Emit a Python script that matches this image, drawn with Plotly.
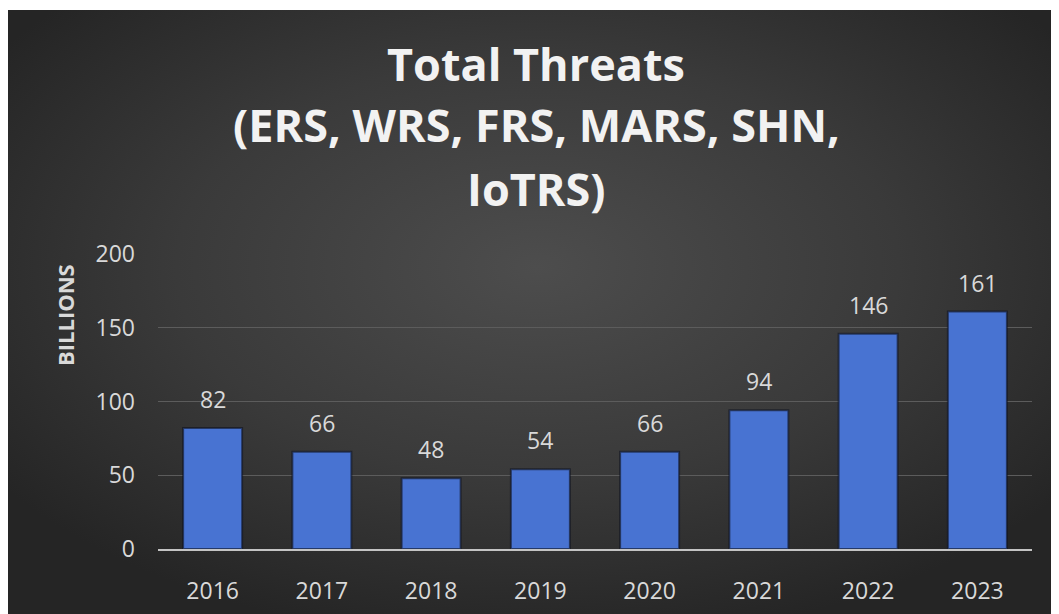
import base64
import plotly.graph_objects as go

years = ["2016", "2017", "2018", "2019", "2020", "2021", "2022", "2023"]
threats = [82, 66, 48, 54, 66, 94, 146, 161]
y_ticks = [0, 50, 100, 150, 200]
title_lines = ["Total Threats", "(ERS, WRS, FRS, MARS, SHN,", "IoTRS)"]
y_title = "BILLIONS"

OFF = 8  # page body margin
W, H = 1059, 614
# plot area in screen pixels
SL, SR, ST, SB = 158, 1032, 254, 549
L, T = SL - OFF, ST - OFF
R, B = W - (SR - OFF), H - (SB - OFF)
pw, ph = W - L - R, H - T - B


def px(x):
    return (x - OFF - L) / pw


def py(y):
    return (H - B - (y - OFF)) / ph


svg = """<svg xmlns='http://www.w3.org/2000/svg' width='1051' height='604' viewBox='0 0 1051 604' preserveAspectRatio='none'>
<defs><radialGradient id='g' cx='50%' cy='42%' r='62%' gradientUnits='objectBoundingBox'>
<stop offset='0' stop-color='#4d4d4d'/><stop offset='0.55' stop-color='#3a3a3a'/><stop offset='1' stop-color='#252525'/>
</radialGradient></defs><rect width='1051' height='604' fill='url(#g)'/></svg>"""
src = "data:image/svg+xml;base64," + base64.b64encode(svg.encode()).decode()

fig = go.Figure()
fig.add_trace(go.Bar(
    x=years, y=threats, width=0.54,
    marker=dict(color="#4873d2", line=dict(color="rgba(15,18,32,0.6)", width=2)),
    hoverinfo="x+y",
))

annotations = []
for i, v in enumerate(threats):
    annotations.append(dict(x=i, y=v, xref="x", yref="y", text=str(v), showarrow=False,
                            yanchor="middle", yshift=29,
                            font=dict(family="Open Sans", size=23, color="#d9d9d9")))
title_y = [63.5, 124, 188]
for t, yy in zip(title_lines, title_y):
    annotations.append(dict(x=px(536), y=py(yy), xref="paper", yref="paper", text="<b>%s</b>" % t,
                            showarrow=False, xanchor="center", yanchor="middle",
                            font=dict(family="Open Sans", size=45, color="#f2f2f2")))
annotations.append(dict(x=px(65), y=py(315), xref="paper", yref="paper", text="<b>%s</b>" % y_title,
                        showarrow=False, textangle=-90, xanchor="center", yanchor="middle",
                        font=dict(family="Open Sans", size=22, color="#d9d9d9")))

fig.update_layout(
    width=W, height=H,
    margin=dict(l=L, r=R, t=T, b=B, autoexpand=False),
    paper_bgcolor="white", plot_bgcolor="rgba(0,0,0,0)",
    showlegend=False,
    annotations=annotations,
    images=[dict(source=src, xref="paper", yref="paper", x=px(8), y=py(10),
                 sizex=px(W + OFF) - px(8), sizey=py(10) - py(H + OFF), xanchor="left", yanchor="top",
                 sizing="stretch", layer="below")],
    xaxis=dict(type="category", range=[-0.5, len(years) - 0.5], showgrid=False, showline=True,
               linecolor="#c4c4c4", linewidth=2,
               ticks="", ticklabelstandoff=20,
               tickfont=dict(family="Open Sans", size=23, color="#d9d9d9")),
    yaxis=dict(range=[0, 200], tickvals=y_ticks, showgrid=True, gridcolor="#5c5c5c", gridwidth=1,
               zeroline=False, showline=False, ticks="", ticklabelstandoff=22,
               tickfont=dict(family="Open Sans", size=23, color="#d9d9d9")),
)

fig.write_html("out.html")
